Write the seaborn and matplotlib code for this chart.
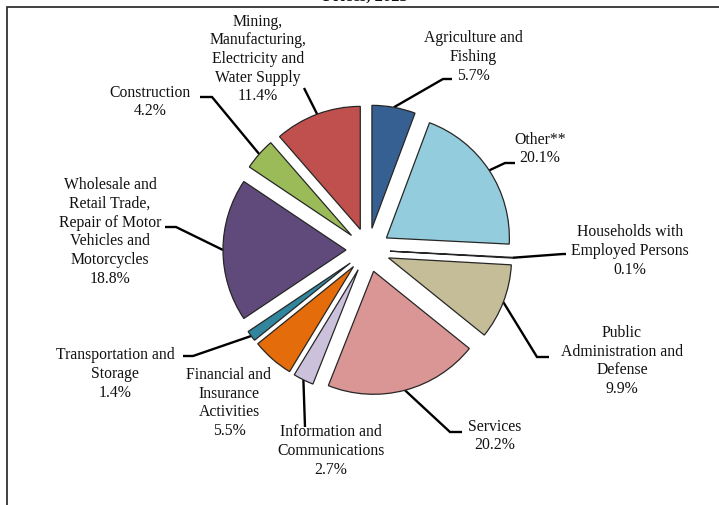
import matplotlib
matplotlib.use("Agg")
import matplotlib.pyplot as plt
import matplotlib.patches as mpatches
import seaborn as sns
import numpy as np

# ---- data ----
categories = [
    "Agriculture and\nFishing",
    "Other**",
    "Households with\nEmployed Persons",
    "Public\nAdministration and\nDefense",
    "Services",
    "Information and\nCommunications",
    "Financial and\nInsurance\nActivities",
    "Transportation and\nStorage",
    "Wholesale and\nRetail Trade,\nRepair of Motor\nVehicles and\nMotorcycles",
    "Construction",
    "Mining,\nManufacturing,\nElectricity and\nWater Supply",
]
shares = [5.7, 20.1, 0.1, 9.9, 20.2, 2.7, 5.5, 1.4, 18.8, 4.2, 11.4]
colors = ["#376092", "#93CDDD", "#7F7F7F", "#C4BD97", "#D99694", "#CCC1DA",
          "#E46C0A", "#31859C", "#604A7B", "#9BBB59", "#C0504D"]
title = "Prices, 2023"

# ---- layout (pixel coordinates, y downward) ----
W, H = 719, 505
CX, CY = 368, 250
R = 123
EXP = 22
# text centre, elbow point, end point (None = no leader)
layout = [
    ((473, 57), (443, 79), (452, 79)),
    ((540, 149), (505, 163), (515, 163)),
    ((630, 251), (563, 254), (566, 254)),
    ((622, 361), (537, 357), (549, 357)),
    ((495, 436), (450, 432), (462, 432)),
    ((331, 451), (305, 427), (305, 427)),
    ((229, 403), None, None),
    ((115, 374), (193, 356), (183, 356)),
    ((110, 232), (176, 227), (165, 227)),
    ((150, 102), (212, 97), (200, 97)),
    ((258, 59), (304, 88), (304, 88)),
]

sns.set_style("white")
plt.rcParams["font.family"] = ["Liberation Serif", "DejaVu Serif"]
palette = sns.color_palette(colors)

fig = plt.figure(figsize=(W / 100, H / 100), dpi=100)
ax = fig.add_axes([0, 0, 1, 1])


def P(x, y):
    return (x, H - y)


wedges, _ = ax.pie(
    shares, colors=palette, startangle=90, counterclock=False,
    radius=R, center=P(CX, CY), explode=[EXP] * len(shares),
    wedgeprops=dict(edgecolor="#262626", linewidth=0.9), frame=False,
)
ax.set_xlim(0, W)
ax.set_ylim(0, H)
ax.set_aspect("equal")
ax.axis("off")

for w, cat, val, (tpos, elbow, end) in zip(wedges, categories, shares, layout):
    tx, ty = P(*tpos)
    ax.text(tx, ty, f"{cat}\n{val:.1f}%", ha="center", va="center",
            fontsize=11.3, linespacing=1.22, color="#111111")
    if elbow is not None:
        mid = np.deg2rad((w.theta1 + w.theta2) / 2)
        ax0 = w.center[0] + R * np.cos(mid)
        ay0 = w.center[1] + R * np.sin(mid)
        ex, ey = P(*elbow)
        nx, ny = P(*end)
        ax.plot([ax0, ex, nx], [ay0, ey, ny], color="black", lw=1.7,
                solid_capstyle="butt", solid_joinstyle="miter", zorder=0.5)

# border box (extends past the right and bottom edges)
ax.add_patch(mpatches.Rectangle(P(7, 530), 760, 523, fill=False,
                                edgecolor="#333333", lw=1.3))
ax.text(365, H - 1, title, ha="center", va="baseline", fontsize=12,
        fontweight="bold", color="#111111")

fig.savefig("out.png", dpi=100)
